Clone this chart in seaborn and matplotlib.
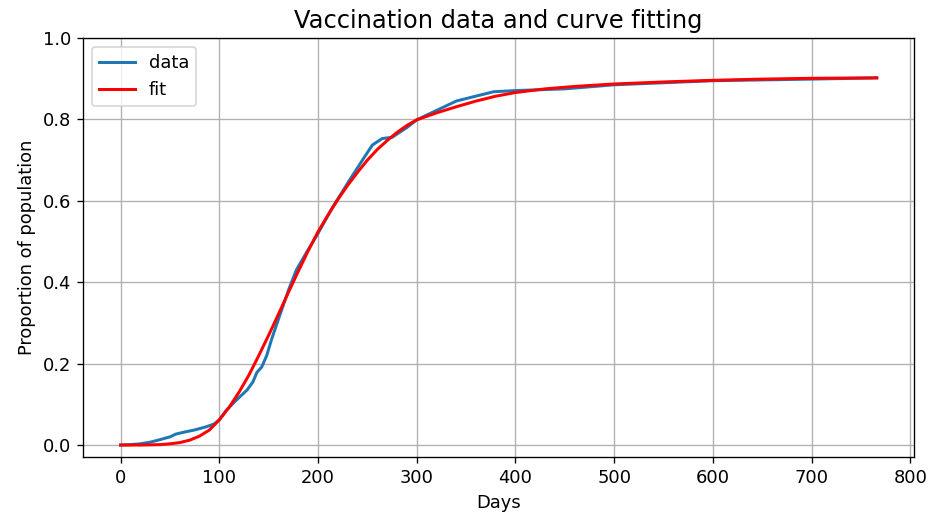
import matplotlib
matplotlib.use("Agg")
import matplotlib.pyplot as plt
import seaborn as sns
import pandas as pd

# Observed cumulative vaccination share
data_days = [0, 10, 20, 30, 38, 44, 50, 56, 65, 75, 87, 95, 100, 107, 115, 121,
             128, 134, 138, 143, 148, 153, 160, 170, 178, 190, 200, 215, 233,
             245, 255, 265, 275, 290, 300, 320, 340, 358, 378, 402, 450, 500,
             550, 600, 650, 700, 766]
data_vals = [0.0, 0.001, 0.003, 0.007, 0.012, 0.016, 0.020, 0.027, 0.032, 0.037,
             0.045, 0.052, 0.062, 0.085, 0.105, 0.119, 0.135, 0.155, 0.178,
             0.192, 0.220, 0.260, 0.310, 0.380, 0.430, 0.480, 0.520, 0.585,
             0.655, 0.700, 0.737, 0.753, 0.756, 0.780, 0.799, 0.822, 0.845,
             0.856, 0.868, 0.871, 0.875, 0.885, 0.890, 0.895, 0.897, 0.899,
             0.902]

# Fitted curve
fit_days = [0, 20, 40, 50, 60, 70, 80, 90, 100, 110, 120, 130, 140, 150, 160,
            170, 180, 190, 200, 210, 220, 230, 240, 250, 260, 270, 280, 290,
            300, 320, 340, 360, 380, 400, 430, 460, 500, 550, 600, 650, 700,
            766]
fit_vals = [0.0, 0.0, 0.001, 0.003, 0.006, 0.012, 0.022, 0.037, 0.062, 0.093,
            0.130, 0.172, 0.220, 0.270, 0.322, 0.375, 0.427, 0.477, 0.524,
            0.565, 0.603, 0.638, 0.670, 0.700, 0.726, 0.748, 0.768, 0.785,
            0.799, 0.816, 0.831, 0.845, 0.857, 0.866, 0.875, 0.881, 0.887,
            0.892, 0.896, 0.899, 0.901, 0.902]

df_data = pd.DataFrame({"Days": data_days, "value": data_vals})
df_fit = pd.DataFrame({"Days": fit_days, "value": fit_vals})

plt.rcParams["font.size"] = 10.7

fig, ax = plt.subplots(figsize=(941 / 120, 519 / 120), dpi=120)
fig.subplots_adjust(left=0.088, right=0.9716, top=0.9268, bottom=0.119)

sns.lineplot(data=df_data, x="Days", y="value", ax=ax, color="#1f77b4",
             linewidth=1.8, label="data")
sns.lineplot(data=df_fit, x="Days", y="value", ax=ax, color="red",
             linewidth=1.8, label="fit")

ax.set_xlim(-38.3, 804)
ax.set_ylim(-0.03, 1.0)
ax.set_xticks(range(0, 801, 100))
ax.set_yticks([0.0, 0.2, 0.4, 0.6, 0.8, 1.0])
ax.grid(True, color="#b0b0b0", linewidth=0.8)
ax.set_axisbelow(True)
ax.set_title("Vaccination data and curve fitting", fontsize=14.5)
ax.set_xlabel("Days")
ax.set_ylabel("Proportion of population")
ax.legend(loc="upper left")

fig.savefig("out.png", dpi=120)
